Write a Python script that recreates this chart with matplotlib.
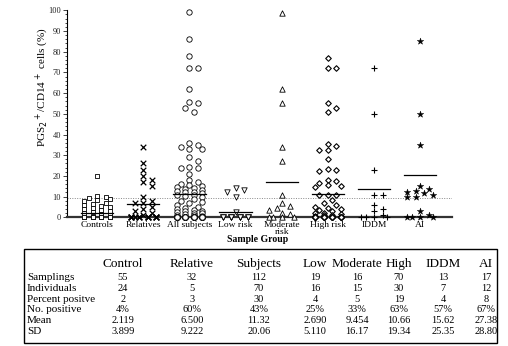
import numpy as np
import matplotlib
matplotlib.use("Agg")
import matplotlib.pyplot as plt
from matplotlib.patches import Rectangle

# ---------------- data ----------------
groups = ["Controls", "Relatives", "All subjects", "Low risk", "Moderate\nrisk",
          "High risk", "IDDM", "AI"]

controls = [20, 10.5, 10, 9.5, 9, 8.5, 8, 7, 6.5, 6, 5.5, 5, 4.5, 4, 3.5, 3, 2.5, 2, 1.5, 1] + [0] * 35
relatives = [34, 26, 23, 20, 18, 17, 15, 10, 8, 7, 7, 5, 4, 3, 2, 1] + [0] * 16
all_subjects = [99, 86, 78, 72, 72, 62, 55.5, 55, 53, 51, 36, 35, 34, 33, 33, 29, 27, 24.5, 24, 24, 21,
                18, 17, 16, 15.5, 15, 14.5, 14, 13.5, 13, 12.5, 12, 12, 11.5, 11, 11, 10.5, 10, 9, 8,
                7.5, 7, 6, 5, 4.5, 4, 3.5, 3, 3, 2.5, 2, 2, 1.5, 1, 1, 0.5] + [0] * 56
low_risk = [14, 13, 12, 10, 2.5] + [0] * 14
moderate_risk = [98.5, 62, 55, 34, 27, 11, 7, 5.5, 4.5, 3.5, 2, 1.5, 0, 0, 0, 0]
high_risk = [77, 72, 72, 55, 53, 51, 35.5, 34.5, 32.5, 32.5, 28, 23.5, 23, 22.5, 18, 17.5, 16.5,
             15.5, 15, 14.5, 11, 11, 11, 8.5, 7, 6, 5, 4.5, 4, 3.5, 3, 2, 2, 1.5, 1, 1, 0.5] + [0] * 33
iddm = [72, 50, 23, 11, 11, 6, 4, 3, 1, 0, 0, 0, 0]
ai = [85, 50, 35, 15, 13.5, 12.5, 12, 11.5, 11, 10, 10, 3, 1, 0, 0, 0, 0]

series = [controls, relatives, all_subjects, low_risk, moderate_risk, high_risk, iddm, ai]
line_values = [2.1, 6.5, 11.3, 2.7, 17.2, 11.4, 13.7, 20.6]
cutoff = 9.2

table_cols = ["Control", "Relative", "Subjects", "Low", "Moderate", "High", "IDDM", "AI"]
row_labels = ["Samplings", "Individuals", "Percent positve", "No. positive", "Mean", "SD"]
samplings = ["55", "32", "112", "19", "16", "70", "13", "17"]
individuals = ["24", "5", "70", "16", "15", "30", "7", "12"]
pct_positive = ["2", "3", "30", "4", "5", "19", "4", "8"]
no_positive = ["4%", "60%", "43%", "25%", "33%", "63%", "57%", "67%"]
means = ["2.119", "6.500", "11.32", "2.690", "9.454", "10.66", "15.62", "27.38"]
sds = ["3.899", "9.222", "20.06", "5.110", "16.17", "19.34", "25.35", "28.80"]
table_rows = [samplings, individuals, pct_positive, no_positive, means, sds]

# ---------------- style ----------------
serif = ["Liberation Serif", "DejaVu Serif"]
plt.rcParams["font.family"] = serif

W, H = 508, 346
fig = plt.figure(figsize=(W / 100, H / 100), dpi=100)
ax_l, ax_r, ax_t, ax_b = 66.7, 452, 10.3, 217.3
ax = fig.add_axes([ax_l / W, 1 - ax_b / H, (ax_r - ax_l) / W, (ax_b - ax_t) / H])

xmin, xmax = -0.66, 7.69
ymin, ymax = 0, 100
ax.set_xlim(xmin, xmax)
ax.set_ylim(ymin, ymax)

px_per_x = (ax_r - ax_l) / (xmax - xmin)
px_per_y = (ax_b - ax_t) / (ymax - ymin)


def swarm(values, wx=8.5, wy=5.5, maxw=0.36):
    """Deterministic dot-plot offsets (data units) for the given values."""
    vals = sorted(values, reverse=True)
    placed = []
    step = wx / 2 / px_per_x
    n = int(maxw / step + 1e-9)
    cands = [0.0]
    for k in range(1, n + 1):
        cands += [k * step, -k * step]
    out = []
    for v in vals:
        best = None
        for c in cands:
            ov = 0.0
            for (px, py) in placed:
                dx = (c - px) * px_per_x / wx
                dy = (v - py) * px_per_y / wy
                d2 = dx * dx + dy * dy
                if d2 < 0.95:
                    ov += 1 - d2
            key = (round(ov, 3), abs(c))
            if best is None or key < best[0]:
                best = (key, c)
            if ov == 0:
                break
        placed.append((best[1], v))
        out.append((best[1], v))
    return out


markers = [
    dict(marker="s", s=12, facecolors="white", edgecolors="black", linewidths=0.6),
    dict(marker="x", s=16, c="black", linewidths=0.9),
    dict(marker="o", s=15, facecolors="white", edgecolors="black", linewidths=0.6),
    dict(marker="v", s=15, facecolors="white", edgecolors="black", linewidths=0.6),
    dict(marker="^", s=15, facecolors="white", edgecolors="black", linewidths=0.6),
    dict(marker="D", s=8, facecolors="white", edgecolors="black", linewidths=0.8),
    dict(marker="+", s=22, c="black", linewidths=0.8),
    dict(marker="*", s=24, c="black", linewidths=0.3),
]

for i, (vals, mk) in enumerate(zip(series, markers)):
    pts = swarm(vals)
    xs = [i + p[0] for p in pts]
    ys = [p[1] for p in pts]
    ax.scatter(xs, ys, clip_on=False, zorder=3, **mk)
    ax.plot([i - 0.35, i + 0.35], [line_values[i]] * 2, color="black", lw=0.9, zorder=4)

ax.axhline(cutoff, color="#888888", lw=0.7, ls=(0, (1, 1.5)), zorder=1)

for s in ["top", "right"]:
    ax.spines[s].set_visible(False)
ax.spines["left"].set_linewidth(0.8)
ax.spines["bottom"].set_linewidth(1.6)
ax.spines["bottom"].set_color("#333333")

ax.set_yticks(np.arange(0, 101, 10))
ax.set_yticks(np.arange(0, 101, 2), minor=True)
ax.tick_params(axis="y", which="major", length=3, width=0.6, labelsize=6, pad=1, colors="#222222")
ax.tick_params(axis="y", which="minor", length=1.5, width=0.5)
ax.set_xticks(range(len(groups)))
ax.set_xticklabels(groups, fontsize=6.8, linespacing=0.75)
ax.tick_params(axis="x", length=0, pad=3)

fig.text(41.7 / W, 1 - 87 / H, r"PGS$_2$$^+$/CD14$^+$ cells (%)", rotation=90,
         ha="center", va="center", fontsize=8)
fig.text(258 / W, 1 - 240 / H, "Sample Group", ha="center", va="center",
         fontsize=7, fontweight="bold")

# ---------------- table ----------------
box_l, box_r, box_t, box_b = 24, 497, 248.5, 343
fig.patches.append(Rectangle((box_l / W, 1 - box_b / H), (box_r - box_l) / W, (box_b - box_t) / H,
                             transform=fig.transFigure, fill=False, edgecolor="black", lw=1.0))
col_x = [123, 192, 259, 315, 357, 399, 443, 486]
head_y = 264
for cx, t in zip(col_x, table_cols):
    fig.text(cx / W, 1 - head_y / H, t, ha="center", va="center", fontsize=9.5)
row_y = [277.3, 288.3, 299.3, 310, 320.7, 331]
for ry, lab, vals in zip(row_y, row_labels, table_rows):
    fig.text(27 / W, 1 - ry / H, lab, ha="left", va="center", fontsize=8)
    for cx, v in zip(col_x, vals):
        fig.text(cx / W, 1 - ry / H, v, ha="center", va="center", fontsize=7.5)

fig.savefig("out.png", dpi=100)
